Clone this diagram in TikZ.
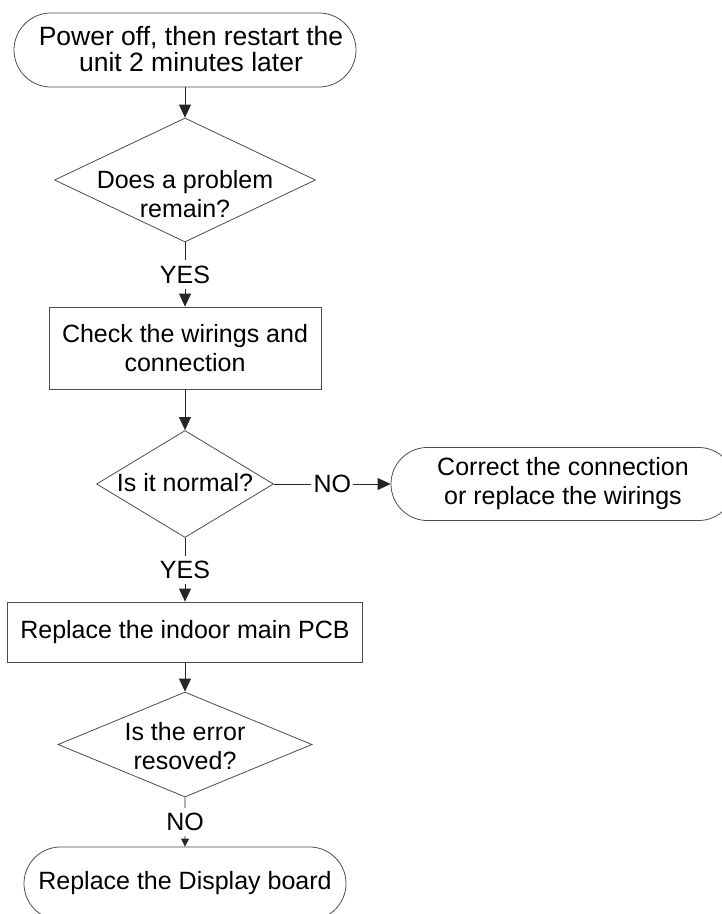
\documentclass[tikz,border=0pt]{standalone}
\usepackage{fontspec}
\setmainfont{Liberation Sans}
\usetikzlibrary{shapes.geometric,shapes.misc,arrows.meta}
\begin{document}
\begin{tikzpicture}[x=1pt,y=1pt,
  every node/.style={font=\fontsize{25}{29}\selectfont, text=black},
  terminal/.style={rounded rectangle, rounded rectangle arc length=175,
    draw=black!70, line width=0.8pt, inner sep=0pt, align=center},
  process/.style={rectangle, draw=black!70, line width=0.8pt,
    inner sep=0pt, align=center},
  decision/.style={diamond, draw=black!70, line width=0.8pt, inner sep=0pt},
  caption/.style={align=center, inner sep=0pt},
  yn/.style={inner xsep=2pt, inner ysep=5pt},
  link/.style={draw=black!85, line width=0.8pt},
  flow/.style={link, -{Triangle[length=13pt,width=12pt]}},
  smallflow/.style={link, -{Triangle[length=8pt,width=8pt]}},
]
\useasboundingbox (0,0) rectangle (722,-914);
\clip (0,0) rectangle (722,-914);

% shapes of the main column
\node[terminal, minimum width=342, minimum height=74] (start) at (185,-50) {};
\node[caption, font=\fontsize{26.5}{26.5}\selectfont] (startt) at (191,-49)
  {Power off, then restart the\\unit 2 minutes later};
\node[decision, minimum width=261, minimum height=124] (q1) at (185,-180) {};
\node[caption] (q1t) at (185,-194) {Does a problem\\remain?};
\node[process, minimum width=272, minimum height=82] (check) at (185,-348)
  {Check the wirings and\\connection};
\node[decision, minimum width=177, minimum height=107] (q2) at (185,-484) {};
\node[caption] (q2t) at (185,-483) {Is it normal?};
\node[terminal, minimum width=344, minimum height=73] (fix) at (563,-484)
  {Correct the connection\\or replace the wirings};
\node[process, minimum width=355, minimum height=60] (pcb) at (185,-632)
  {Replace the indoor main PCB};
\node[decision, minimum width=254, minimum height=105] (q3) at (185,-744.5) {};
\node[caption] (q3t) at (185,-746) {Is the error\\resoved?};
\node[terminal, minimum width=322, minimum height=73] (disp) at (185,-883.5)
  {Replace the Display board};

% branch labels, halfway along their connectors
\path (q1) -- node[yn] (y1) {YES} (check);
\path (q2) -- node[yn] (n1) {NO} (fix);
\path (q2) -- node[yn] (y2) {YES} (pcb);
\path (q3) -- node[yn] (n2) {NO} (disp);

% connectors
\draw[flow] (start) -- (q1);
\draw[link] (q1) -- (y1);
\draw[flow] (y1) -- (check);
\draw[flow] (check) -- (q2);
\draw[link] (q2) -- (n1);
\draw[flow] (n1) -- (fix);
\draw[link] (q2) -- (y2);
\draw[flow] (y2) -- (pcb);
\draw[flow] (pcb) -- (q3);
\draw[link] (q3) -- (n2);
\draw[smallflow] (n2) -- (disp);
\end{tikzpicture}
\end{document}
